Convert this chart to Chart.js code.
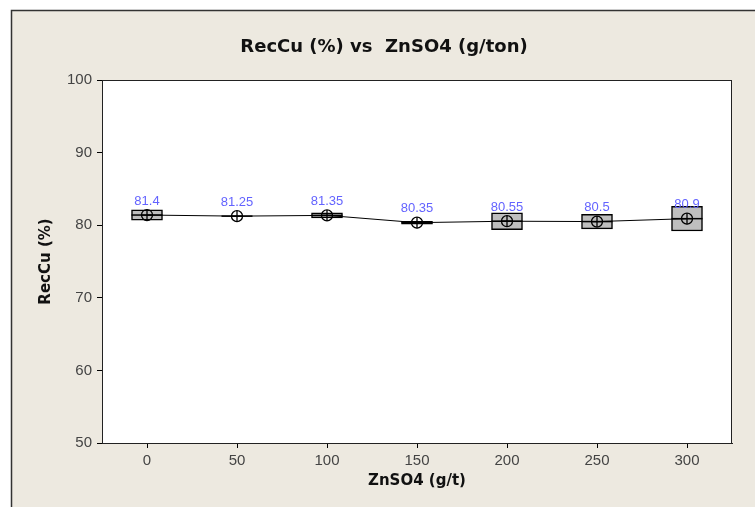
<!DOCTYPE html>
<html>
<head>
<meta charset="utf-8">
<script src="https://cdn.jsdelivr.net/npm/chart.js@4.4.1/dist/chart.umd.min.js"></script>
<style>
  html, body { margin: 0; padding: 0; background: #fff; }
  canvas { display: block; }
</style>
</head>
<body>
<canvas id="chart" width="755" height="507"></canvas>
<script>
// ZnSO4 dosage groups (g/t)
const doses = ['0', '50', '100', '150', '200', '250', '300'];
// box bottom / top (RecCu %)
const boxLow = [80.7, 81.25, 81.0, 80.15, 79.4, 79.5, 79.2];
const boxHigh = [82.1, 81.25, 81.7, 80.55, 81.7, 81.5, 82.6];
const medians = [81.4, 81.25, 81.35, 80.35, 80.55, 80.5, 80.9];
const means = [81.4, 81.25, 81.35, 80.35, 80.55, 80.5, 80.9];
const yTicks = [50, 60, 70, 80, 90, 100];

const boxes = doses.map((d, i) => [boxLow[i], boxHigh[i]]);

const FRAME_BG = '#EDE9E0';

// beige panel, white plot area, plot frame
const backdrop = {
    id: 'backdrop',
    beforeDraw(chart) {
        const ctx = chart.ctx;
        const a = chart.chartArea;
        ctx.save();
        ctx.fillStyle = '#fff';
        ctx.fillRect(0, 0, chart.width, chart.height);
        ctx.fillStyle = FRAME_BG;
        ctx.fillRect(11, 10, chart.width - 11, chart.height - 10);
        ctx.strokeStyle = '#333';
        ctx.lineWidth = 1.5;
        ctx.beginPath();
        ctx.moveTo(11.5, chart.height);
        ctx.lineTo(11.5, 10.5);
        ctx.lineTo(chart.width, 10.5);
        ctx.stroke();
        ctx.fillStyle = '#fff';
        ctx.fillRect(a.left, a.top, a.right - a.left, a.bottom - a.top);
        ctx.restore();
    },
    beforeDatasetsDraw(chart) {
        const ctx = chart.ctx;
        const a = chart.chartArea;
        ctx.save();
        ctx.strokeStyle = '#222';
        ctx.lineWidth = 1;
        ctx.strokeRect(a.left + 0.5, a.top + 0.5, a.right - a.left - 1, a.bottom - a.top);
        ctx.restore();
    }
};

// blue mean labels above the mean symbols
const meanLabels = {
    id: 'meanLabels',
    afterDatasetsDraw(chart) {
        const ctx = chart.ctx;
        const meta = chart.getDatasetMeta(2);
        ctx.save();
        ctx.fillStyle = '#6363FF';
        ctx.font = '13px "Liberation Sans", sans-serif';
        ctx.textAlign = 'center';
        ctx.textBaseline = 'middle';
        meta.data.forEach((pt, i) => {
            ctx.fillText(String(means[i]), pt.x, pt.y - 14);
        });
        ctx.restore();
    }
};

const config = {
    data: {
        labels: doses,
        datasets: [{
            type: 'bar',
            data: boxes,
            backgroundColor: '#BEBEBE',
            borderColor: '#000',
            borderWidth: 1.5,
            borderSkipped: false,
            barThickness: 31,
            order: 4
        }, {
            type: 'line',
            data: medians,
            showLine: false,
            pointStyle: 'line',
            pointRadius: 15.5,
            pointBorderColor: '#000',
            pointBorderWidth: 1.5,
            order: 3
        }, {
            type: 'line',
            data: means,
            borderColor: '#000',
            borderWidth: 1,
            pointStyle: 'circle',
            pointRadius: 5.5,
            pointBackgroundColor: 'rgba(0,0,0,0)',
            pointBorderColor: '#000',
            pointBorderWidth: 1.3,
            order: 2
        }, {
            type: 'line',
            data: means,
            showLine: false,
            pointStyle: 'cross',
            pointRadius: 5.5,
            pointBorderColor: '#000',
            pointBorderWidth: 1.3,
            order: 1
        }]
    },
    options: {
        responsive: false,
        animation: false,
        devicePixelRatio: 1,
        layout: { padding: { left: 36, right: 23, top: 0, bottom: 0 } },
        plugins: {
            legend: { display: false },
            tooltip: { enabled: false },
            title: {
                display: true,
                text: 'RecCu (%) vs  ZnSO4 (g/ton)',
                color: '#111',
                font: { family: 'DejaVu Sans', size: 18, weight: 'bold', lineHeight: 1.2 },
                padding: { top: 37, bottom: 21.4 }
            }
        },
        scales: {
            x: {
                type: 'category',
                offset: true,
                grid: { offset: false, drawOnChartArea: false, drawTicks: true, tickLength: 5, color: '#000' },
                border: { display: true, color: '#222', width: 1 },
                ticks: {
                    color: '#444',
                    padding: 4,
                    font: { family: 'Liberation Sans', size: 15 }
                },
                title: {
                    display: true,
                    text: 'ZnSO4 (g/t)',
                    color: '#111',
                    font: { family: 'DejaVu Sans', size: 15, weight: 'bold', lineHeight: 1.2 },
                    padding: { top: 0, bottom: 17 }
                },
                afterFit(scale) { scale.height = 64; }
            },
            y: {
                min: 50,
                max: 100,
                afterBuildTicks(scale) { scale.ticks = yTicks.map(v => ({ value: v })); },
                grid: { drawOnChartArea: false, drawTicks: true, tickLength: 5, color: '#000' },
                border: { display: true, color: '#222', width: 1 },
                ticks: {
                    color: '#444',
                    padding: 5,
                    font: { family: 'Liberation Sans', size: 15 }
                },
                title: {
                    display: true,
                    text: 'RecCu (%)',
                    color: '#111',
                    font: { family: 'DejaVu Sans', size: 15, weight: 'bold', lineHeight: 1.2 },
                    padding: { top: 1, bottom: 0 }
                },
                afterFit(scale) { scale.width = 66; }
            }
        }
    },
    plugins: [backdrop, meanLabels]
};

new Chart(document.getElementById('chart'), config);
</script>
</body>
</html>
